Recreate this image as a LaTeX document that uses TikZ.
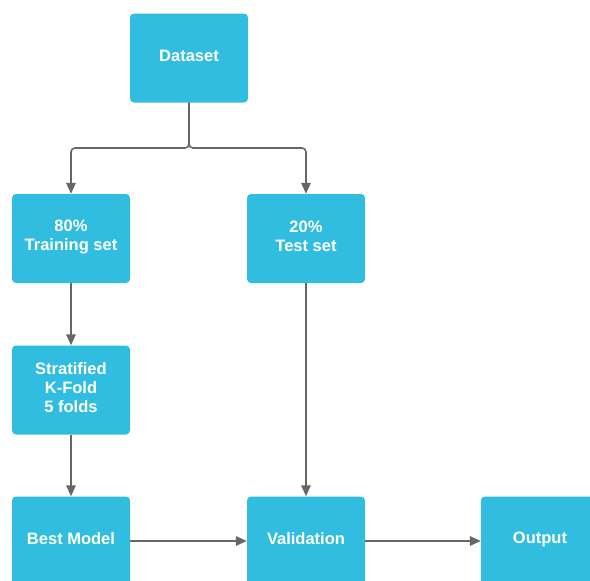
\documentclass[tikz,border=0pt]{standalone}
\usepackage{fontspec}
\setmainfont{Liberation Sans}
\usetikzlibrary{arrows.meta}
\definecolor{boxblue}{HTML}{31BDE0}
\definecolor{linegray}{HTML}{666666}
\begin{document}
\begin{tikzpicture}[x=1pt,y=-1pt,
  box/.style={fill=boxblue, rounded corners=4pt, minimum width=118pt, minimum height=89pt,
    text=white, font=\fontsize{16.5}{19}\selectfont\bfseries, align=center, inner sep=0pt},
  lbl/.style={text=white, font=\fontsize{16.5}{19}\selectfont\bfseries, align=center, inner sep=0pt},
  conn/.style={draw=linegray, line width=1.6pt, -{Triangle[length=11pt,width=9.5pt]}, rounded corners=4pt}]
\useasboundingbox (0,0) rectangle (590,581);
\begin{scope}
\clip (0,0) rectangle (590,581);
\node[box] (ds) at (189,58) {};
\node[box] (tr) at (71,238.5) {};
\node[box] (te) at (306,238.5) {};
\node[box] (sk) at (71,390) {};
\node[box] (bm) at (71,541) {};
\node[box] (va) at (306,541) {};
\node[box] (out) at (540,541) {};
\node[lbl] (tds) at ([yshift=2pt]ds.center) {Dataset};
\node[lbl] (ttr) at ([yshift=2pt]tr.center) {80\%\\Training set};
\node[lbl] (tte) at ([yshift=2pt]te.center) {20\%\\Test set};
\node[lbl] (tsk) at ([yshift=2pt]sk.center) {Stratified\\K-Fold\\5 folds};
\node[lbl] (tbm) at ([yshift=2pt]bm.center) {Best Model};
\node[lbl] (tva) at ([yshift=2pt]va.center) {Validation};
\node[lbl] (tout) at ([yshift=2pt]out.center) {Output};
\coordinate (j) at (189,148);
\draw[conn] (ds.south) -- (j) -| (tr.north);
\draw[conn] (ds.south) -- (j) -| (te.north);
\draw[conn] (tr.south) -- (sk.north);
\draw[conn] (sk.south) -- (bm.north);
\draw[conn] (te.south) -- (va.north);
\draw[conn] (bm.east) -- (va.west);
\draw[conn] (va.east) -- (out.west);
\end{scope}
\end{tikzpicture}
\end{document}
